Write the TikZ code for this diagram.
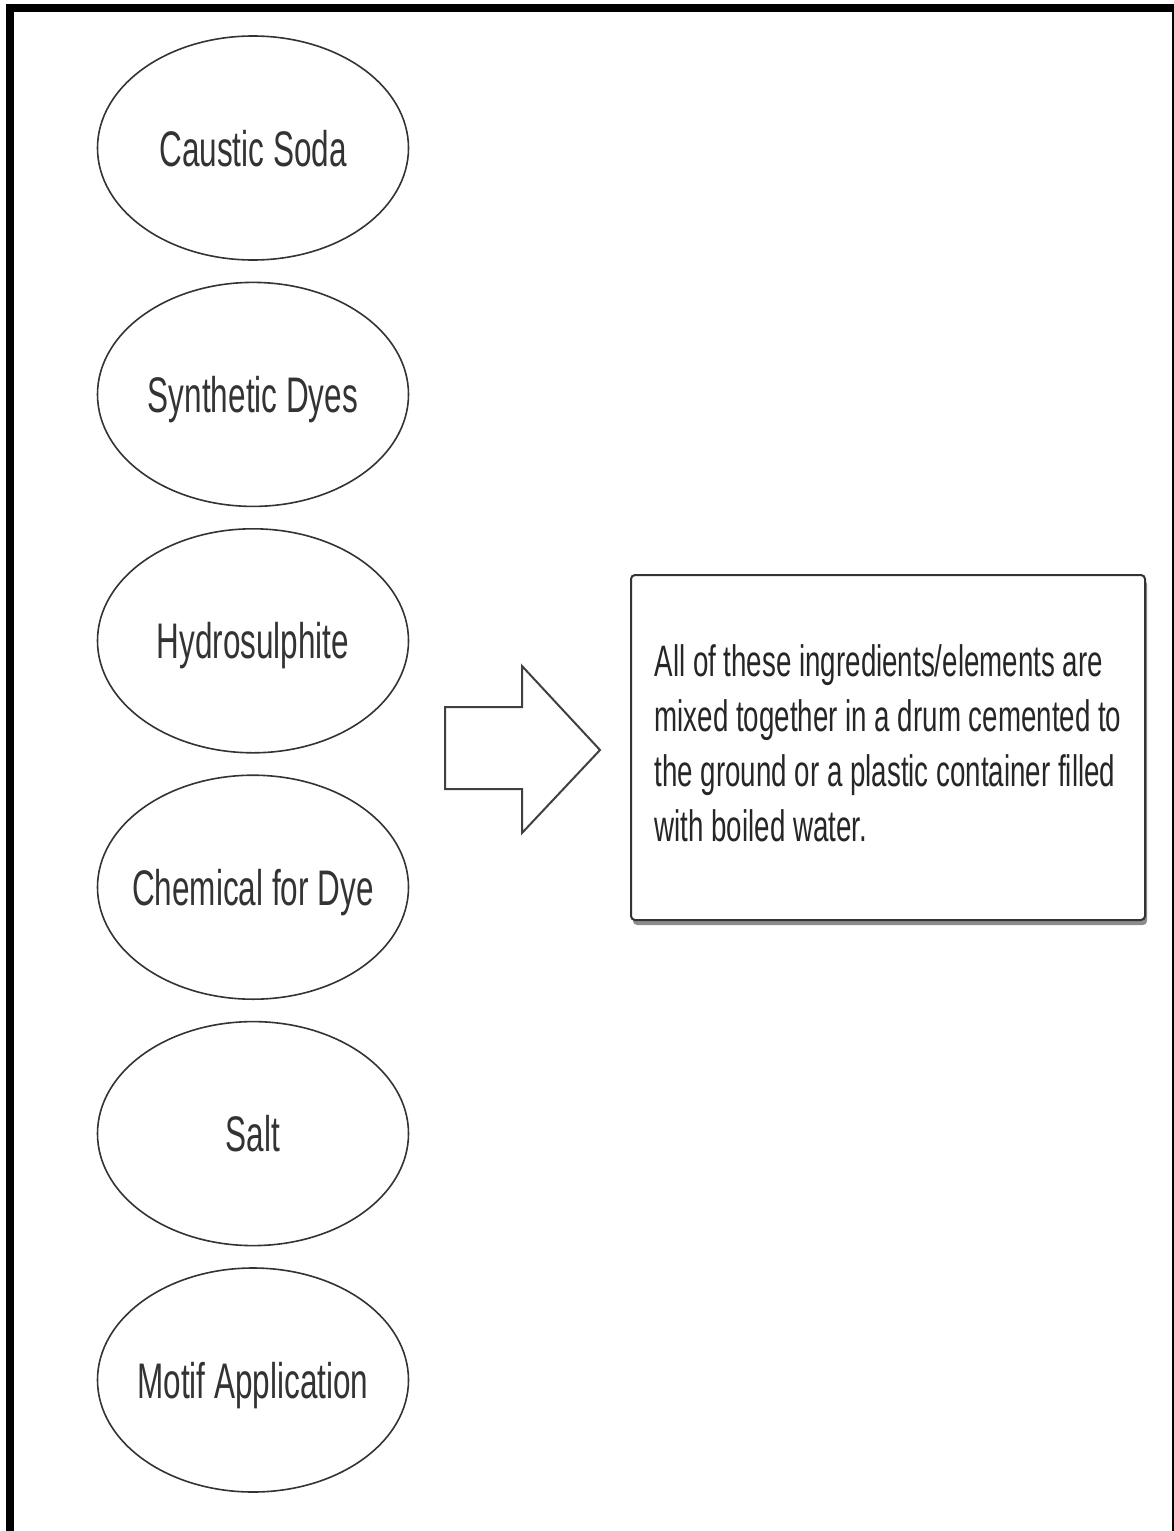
\documentclass[tikz,border=0pt]{standalone}
\usepackage{fontspec}
\setmainfont{Liberation Sans}
\usetikzlibrary{shapes.geometric,shadows}
\newcommand{\narrowtext}[1]{\scalebox{0.63}[1]{#1}}
\newcommand{\ingtext}[1]{\makebox[0pt]{\narrowtext{#1}}}
\begin{document}
\begin{tikzpicture}
			[x=1pt, y=-1pt,
			ingredient/.style ={ellipse, draw=black!80, line width=1.6pt, minimum width=311pt, minimum height=224pt, inner sep=0pt, text=black!80, text height=36pt, text depth=0pt, font=\fontsize{50}{60}\selectfont},
			notebox/.style ={rectangle, rounded corners=4pt, draw=black!80, line width=2pt, fill=white, minimum width=514pt, minimum height=345pt, inner sep=0pt, text=black!85, font=\fontsize{44}{55}\selectfont, drop shadow={shadow xshift=2pt, shadow yshift=-5pt, fill=black!45, opacity=1}},
			blockarrow/.style ={draw=black!75, line width=2pt, line join=miter}]
			\useasboundingbox (0,0) rectangle (1174,1531);
			\draw[line width=8pt] (10,1531) -- (10,8) -- (1174,8);
			\draw[line width=2pt] (1173,4) -- (1173,1531);
			\node[ingredient] (caustic) at (253,148) {\ingtext{Caustic Soda}};
			\node[ingredient] (dyes) at (253,394.4) {\ingtext{Synthetic Dyes}};
			\node[ingredient] (hydro) at (253,640.8) {\ingtext{Hydrosulphite}};
			\node[ingredient] (chem) at (253,887.2) {\ingtext{Chemical for Dye}};
			\node[ingredient] (salt) at (253,1133.6) {\ingtext{Salt}};
			\node[ingredient] (motif) at (253,1380) {\ingtext{Motif Application}};
			\draw[blockarrow] (445,707) -- (522,707) -- (522,666) -- (600,750) -- (522,833) -- (522,789) -- (445,789) -- cycle;
			\node[notebox] (mix) at (888,747.5) {\narrowtext{\begin{tabular}{@{}l@{}}All of these ingredients/elements are\\mixed together in a drum cemented to\\the ground or a plastic container filled\\with boiled water.\end{tabular}}};
		\end{tikzpicture}
\end{document}
